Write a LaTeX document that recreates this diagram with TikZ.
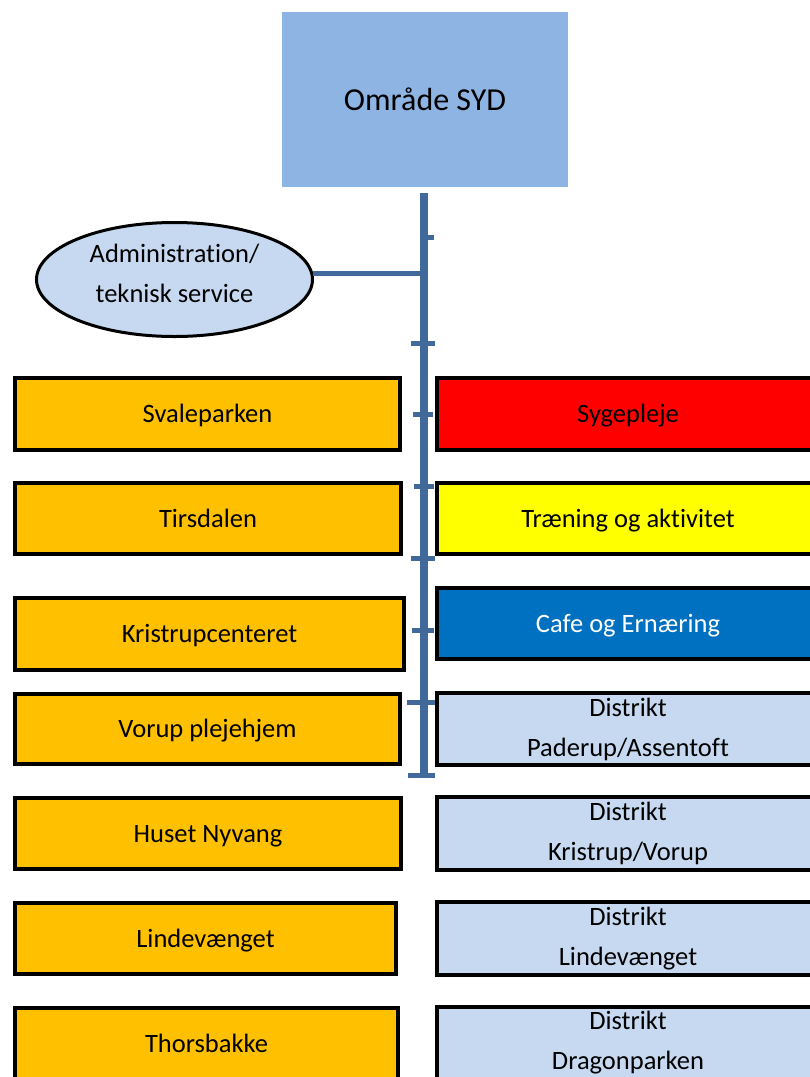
\documentclass[tikz,border=0pt]{standalone}
\usepackage{fontspec}
\setmainfont{Carlito}[Ligatures=NoCommon]
\usepackage{tikz}
\usetikzlibrary{shapes.geometric}
\definecolor{titleblue}{RGB}{142,180,227}
\definecolor{lightblue}{RGB}{198,217,241}
\definecolor{unitorange}{RGB}{255,192,0}
\definecolor{darkblue}{RGB}{0,112,192}
\definecolor{barblue}{RGB}{65,105,156}
\definecolor{teamred}{RGB}{255,0,0}
\definecolor{teamyellow}{RGB}{255,255,0}

\begin{document}
\begin{tikzpicture}[x=1pt,y=-1pt,
    every node/.style={font=\fontsize{26.5}{40}\selectfont, align=center,
                       inner sep=0pt, outer sep=0pt},
    box/.style={draw=black, line width=4pt,
                minimum width=385pt, minimum height=72pt},
    unit/.style={box, fill=unitorange, text height=19pt, text depth=2pt},
    team/.style={unit, minimum width=382pt},
    district/.style={box, minimum width=382pt, fill=lightblue},
    bar/.style={draw=barblue, line width=8pt},
    tick/.style={draw=barblue, line width=5pt}]
  \useasboundingbox (0,0) rectangle (810,1077);
  \clip (0,0) rectangle (810,1077);

  % top and staff unit
  \node[fill=titleblue, minimum width=286pt, minimum height=175pt,
        font=\fontsize{32}{38}\selectfont] (syd) at (425,99.5) {Område SYD};
  \node[ellipse, draw=black, line width=3pt, fill=lightblue,
        minimum width=276pt, minimum height=114pt,
        label={[align=center, yshift=6pt]center:Administration/\\teknisk service}]
        (adm) at (174.5,279.5) {};

  % left column
  \node[unit] (svale)  at (207.5,414)  {Svaleparken};
  \node[unit, minimum width=386pt, minimum height=71pt] (tirs) at (208,518.5) {Tirsdalen};
  \node[unit, minimum width=389pt] (kris)  at (209.5,634)  {Kristrupcenteret};
  \node[unit, minimum height=70pt] (vorup) at (207.5,729) {Vorup plejehjem};
  \node[unit, minimum width=386pt, minimum height=71pt] (nyvang) at (208,833.5) {Huset Nyvang};
  \node[unit, minimum width=381pt, minimum height=71pt] (linde) at (205.5,938.5) {Lindevænget};
  \node[unit, minimum width=383pt] (thors) at (206.5,1043.5) {Thorsbakke};

  % right column
  \node[team, fill=teamred] (syge) at (628,414) {Sygepleje};
  \node[team, fill=teamyellow, minimum height=71pt] (trae) at (628,518.5) {Træning og aktivitet};
  \node[team, fill=darkblue, text=white, minimum height=71pt] (cafe) at (628,623.5) {Cafe og Ernæring};
  \node[district] (dpa) at (628,729)    {Distrikt\\Paderup/Assentoft};
  \node[district, minimum height=73pt] (dkv) at (628,833.5) {Distrikt\\Kristrup/Vorup};
  \node[district, minimum height=73pt] (dli) at (628,938.5) {Distrikt\\Lindevænget};
  \node[district] (ddr) at (628,1043)   {Distrikt\\Dragonparken};

  % spine
  \coordinate (top) at (424,193);
  \coordinate (end) at (424,775);
  \draw[bar] (top) -- (end);
  \draw[tick] ([yshift=6pt]adm.east) -- ([yshift=6pt]adm.east -| top);
  \foreach \y/\a/\b in {237/424/434, 343/411/435, 414/413/433, 486/414/434,
                        558/411/435, 630/412/434, 702/407/435, 775/408/435}
    \draw[tick] (\a,\y) -- (\b,\y);
\end{tikzpicture}
\end{document}
